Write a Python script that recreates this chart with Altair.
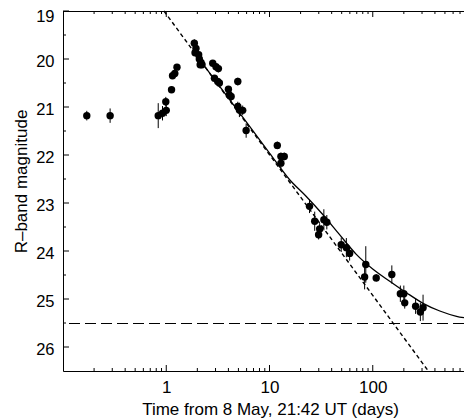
import altair as alt
import pandas as pd

# ---- photometry (R band) ----
t_days = [0.17, 0.286, 0.836, 0.92, 1.0, 0.99, 1.125, 1.15, 1.21, 1.27,
          1.87, 1.94, 1.90, 2.06, 2.09, 2.17, 2.13, 2.22,
          2.82, 3.03, 3.2, 2.93, 3.15, 3.27, 4.93, 4.0, 4.08, 4.25,
          4.93, 5.11, 5.5, 5.94,
          11.9, 12.9, 13.9, 12.9,
          24.4, 27.4, 30.6, 29.9, 33.6, 35.9, 49.5, 55.5, 59.7,
          85.6, 83.4, 108, 153, 185, 200, 204, 260, 289, 307]
r_mag = [21.18, 21.18, 21.18, 21.13, 21.07, 20.89, 20.64, 20.35, 20.30, 20.17,
         19.67, 19.78, 19.87, 19.91, 20.00, 20.07, 20.12, 20.12,
         20.09, 20.16, 20.20, 20.40, 20.47, 20.50, 20.47, 20.63, 20.75, 20.78,
         20.99, 21.06, 21.07, 21.49,
         21.80, 22.03, 22.03, 22.17,
         23.07, 23.38, 23.54, 23.66, 23.35, 23.40, 23.87, 23.93, 24.05,
         24.28, 24.54, 24.56, 24.49, 24.89, 24.89, 25.08, 25.15, 25.27, 25.18]
r_err = [0.10, 0.15, 0.26, 0.15, 0.12, 0.10, 0.06, 0.06, 0.06, 0.06,
         0.08, 0.08, 0.06, 0.06, 0.06, 0.06, 0.06, 0.06,
         0.06, 0.08, 0.08, 0.06, 0.06, 0.06, 0.08, 0.06, 0.06, 0.10,
         0.10, 0.15, 0.10, 0.15,
         0.08, 0.08, 0.08, 0.10,
         0.14, 0.20, 0.12, 0.10, 0.22, 0.15, 0.15, 0.20, 0.15,
         0.38, 0.26, 0.08, 0.19, 0.17, 0.17, 0.12, 0.16, 0.19, 0.27]

# ---- fitted curve (power law + host) ----
fit_t = [2.0, 5.0, 10, 15.6, 22.6, 32.8, 47.7, 69.3, 100.6, 146, 212, 307, 446, 648, 765]
fit_m = [19.95, 21.09, 21.96, 22.51, 22.86, 23.24, 23.66, 24.07, 24.38, 24.63,
         24.87, 25.09, 25.25, 25.36, 25.39]

# ---- extrapolated power law (dashed) ----
pl_t = [0.95, 345]
pl_m = [19.0, 26.5]

# ---- host galaxy level ----
host_mag = [25.5]

# ---- axis ticks ----
x_major = [1, 10, 100]
x_minor = [0.2, 0.3, 0.4, 0.5, 0.6, 0.7, 0.8, 0.9,
           2, 3, 4, 5, 6, 7, 8, 9,
           20, 30, 40, 50, 60, 70, 80, 90,
           200, 300, 400, 500, 600, 700]
y_major = [19, 20, 21, 22, 23, 24, 25, 26]
y_minor = [19.5, 20.5, 21.5, 22.5, 23.5, 24.5, 25.5]

W, H = 401, 360
FONT = "Liberation Sans"

xs = alt.Scale(type="log", domain=[0.1, 765], nice=False)
ys = alt.Scale(domain=[19, 26.5], reverse=True, nice=False, zero=False)

xaxis = alt.Axis(values=x_major, format="d", title="Time from 8 May, 21:42 UT (days)",
                 grid=False, ticks=False, tickSize=0, labelPadding=21,
                 labelBaseline="alphabetic", labelFontSize=17, labelFont=FONT,
                 labelColor="black", labelFlush=False, labelOverlap=False,
                 titleFont=FONT, titleFontSize=17, titleFontWeight="normal",
                 titleColor="black", titleBaseline="alphabetic", titleY=43.5,
                 titleX=207, titleAlign="center",
                 domainColor="black", domainWidth=1)
yaxis = alt.Axis(values=y_major, format="d", title="R\u2013band magnitude",
                 grid=False, ticks=False, tickSize=0, labelPadding=9,
                 labelFontSize=16.5, labelFont=FONT, labelColor="black",
                 labelFlush=False, labelOverlap=False,
                 labelOffset={"condition": {"test": "datum.value == 19", "value": 5},
                              "value": 2.5},
                 titleFont=FONT, titleFontSize=17, titleFontWeight="normal",
                 titleColor="black", titleAngle=270, titleBaseline="alphabetic",
                 titleAlign="center", titleX=-37, titleY=170,
                 domainColor="black", domainWidth=1)

pts = pd.DataFrame({"t": t_days, "m": r_mag, "e": r_err})
pts["lo"] = pts["m"] - pts["e"]
pts["hi"] = pts["m"] + pts["e"]
fit = pd.DataFrame({"t": fit_t, "m": fit_m})
pl = pd.DataFrame({"t": pl_t, "m": pl_m})
host = pd.DataFrame({"m": host_mag})
xmaj = pd.DataFrame({"t": x_major})
xmin = pd.DataFrame({"t": x_minor})
ymaj = pd.DataFrame({"m": y_major})
ymin = pd.DataFrame({"m": y_minor})

X = lambda: alt.X("t:Q", scale=xs, axis=xaxis)
Y = lambda f="m": alt.Y(f + ":Q", scale=ys, axis=yaxis)

points = alt.Chart(pts).mark_circle(size=55, color="black", opacity=1).encode(x=X(), y=Y())
bars = alt.Chart(pts).mark_rule(color="black", strokeWidth=1).encode(
    x=X(), y=Y("lo"), y2="hi:Q")
fit_line = alt.Chart(fit).mark_line(color="black", strokeWidth=1.3, interpolate="monotone").encode(
    x=X(), y=Y())
pl_line = alt.Chart(pl).mark_line(color="black", strokeWidth=1.4, strokeDash=[4, 3]).encode(
    x=X(), y=Y())
host_line = alt.Chart(host).mark_rule(color="black", strokeWidth=1.2, strokeDash=[11, 5],
                                      yOffset=0.5).encode(y=Y())

tk = dict(color="black", strokeWidth=1)
bx_maj = alt.Chart(xmaj).mark_rule(**tk).encode(x=X(), y=alt.value(H), y2=alt.value(H - 6))
bx_min = alt.Chart(xmin).mark_rule(**tk).encode(x=X(), y=alt.value(H), y2=alt.value(H - 3))
tx_maj = alt.Chart(xmaj).mark_rule(**tk).encode(x=X(), y=alt.value(0), y2=alt.value(6))
tx_min = alt.Chart(xmin).mark_rule(**tk).encode(x=X(), y=alt.value(0), y2=alt.value(3))
ly_maj = alt.Chart(ymaj).mark_rule(**tk).encode(y=Y(), x=alt.value(0), x2=alt.value(6))
ly_min = alt.Chart(ymin).mark_rule(**tk).encode(y=Y(), x=alt.value(0), x2=alt.value(3))
top = alt.Chart(host).mark_rule(**tk).encode(x=alt.value(0), x2=alt.value(W), y=alt.value(0.5))

chart = alt.layer(
    host_line, pl_line, fit_line, bars, points,
    bx_maj, bx_min, tx_maj, tx_min, ly_maj, ly_min, top
).properties(
    width=W, height=H,
    padding={"left": 55, "top": 3, "right": 0, "bottom": 49},
    autosize=alt.AutoSizeParams(type="none"),
).configure_view(stroke=None).configure(background="white")

chart.save("out.html", embed_options={"renderer": "svg", "actions": False})
